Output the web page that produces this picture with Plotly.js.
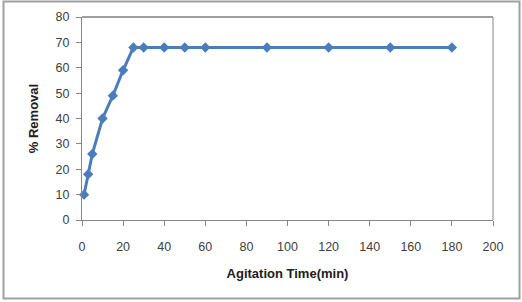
<!DOCTYPE html>
<html>
<head>
<meta charset="utf-8">
<script src="https://cdn.plot.ly/plotly-3.0.1.min.js"></script>
<style>
  html, body { margin: 0; padding: 0; background: #ffffff; }
  #chart { width: 522px; height: 302px; }
</style>
</head>
<body>
<div id="chart"></div>
<script>
// Agitation time (min) against percentage removal
const agitationTime = [1, 3, 5, 10, 15, 20, 25, 30, 40, 50, 60, 90, 120, 150, 180];
const percentRemoval = [10, 18, 26, 40, 49, 59, 68, 68, 68, 68, 68, 68, 68, 68, 68];
const xTickValues = [0, 20, 40, 60, 80, 100, 120, 140, 160, 180, 200];
const yTickValues = [0, 10, 20, 30, 40, 50, 60, 70, 80];

const blue = '#4a7ebb';
const axisGrey = '#868686';
const fontFamily = '"Liberation Sans", Arial, sans-serif';

const trace = {
  x: agitationTime,
  y: percentRemoval,
  type: 'scatter',
  mode: 'lines+markers',
  line: { color: blue, width: 3 },
  marker: { symbol: 'diamond', size: 8, color: blue },
  cliponaxis: false,
  hoverinfo: 'skip'
};

// Plot-area pixel box, used to place the outer frame in paper units
const L = 82, R = 29, T = 17, B = 82, W = 522, H = 302;
const pw = W - L - R, ph = H - T - B;
const px = v => (v - L) / pw;
const py = v => (H - B - v) / ph;

const layout = {
  width: W,
  height: H,
  margin: { l: L, r: R, t: T, b: B, pad: 0 },
  paper_bgcolor: '#ffffff',
  plot_bgcolor: '#ffffff',
  showlegend: false,
  font: { family: fontFamily, size: 12, color: '#404040' },
  xaxis: {
    range: [0, 200],
    tickvals: xTickValues,
    ticktext: xTickValues.map(String),
    showgrid: false,
    zeroline: false,
    showline: true,
    linecolor: axisGrey,
    linewidth: 1,
    ticks: 'outside',
    ticklen: 5,
    tickcolor: axisGrey,
    tickfont: { family: fontFamily, size: 12.5, color: '#404040' },
    ticklabelstandoff: 10,
    title: {
      text: 'Agitation Time(min)',
      font: { family: fontFamily, size: 13, color: '#202020', weight: 'bold' },
      standoff: 15
    },
    fixedrange: true
  },
  yaxis: {
    range: [0, 80],
    tickvals: yTickValues,
    ticktext: yTickValues.map(String),
    showgrid: false,
    zeroline: false,
    showline: true,
    linecolor: axisGrey,
    linewidth: 1,
    ticks: 'outside',
    ticklen: 5,
    tickcolor: axisGrey,
    tickfont: { family: fontFamily, size: 12.5, color: '#404040' },
    ticklabelstandoff: 4,
    title: {
      text: '% Removal',
      font: { family: fontFamily, size: 13, color: '#202020', weight: 'bold' },
      standoff: 14
    },
    fixedrange: true
  },
  shapes: [
    // plot-area border: top and right edges
    { type: 'line', xref: 'paper', yref: 'paper', x0: 0, x1: 1, y0: 1, y1: 1,
      line: { color: '#404040', width: 1 } },
    { type: 'line', xref: 'paper', yref: 'paper', x0: 1, x1: 1, y0: 0, y1: 1,
      line: { color: axisGrey, width: 1 } },
    // outer chart frame
    { type: 'rect', xref: 'paper', yref: 'paper', layer: 'below',
      x0: px(3.5), x1: px(519.5), y0: py(298.5), y1: py(1.5),
      line: { color: '#a0a0a0', width: 2 }, fillcolor: 'rgba(0,0,0,0)' }
  ]
};

Plotly.newPlot('chart', [trace], layout, { displayModeBar: false, staticPlot: true });
</script>
</body>
</html>
